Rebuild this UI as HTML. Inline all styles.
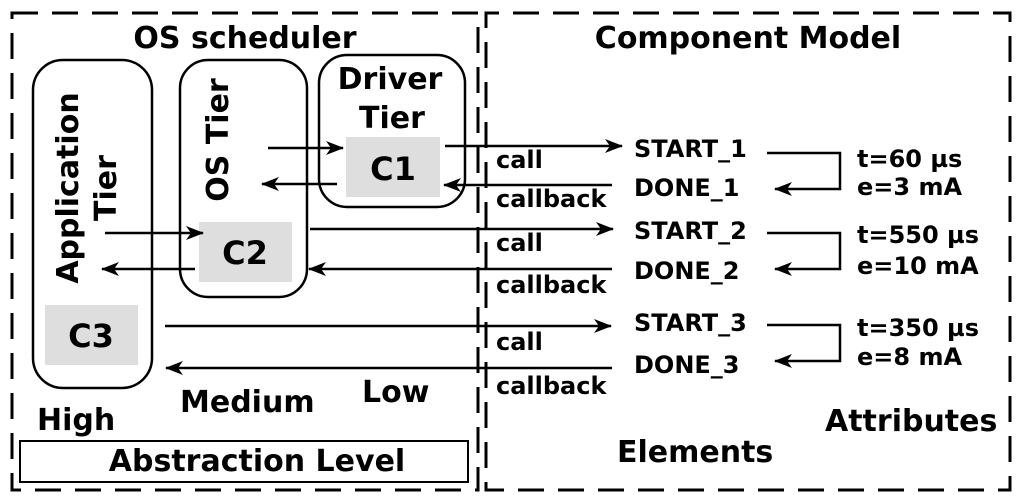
<!DOCTYPE html>
<html><head><meta charset="utf-8"><style>
html,body{margin:0;padding:0;background:#fff;}
svg{display:block;}
text{font-family:"DejaVu Sans","Liberation Sans",sans-serif;font-weight:bold;fill:#000;}
</style></head><body>
<svg width="1024" height="503" viewBox="0 0 1024 503" xmlns="http://www.w3.org/2000/svg">
<defs>
<marker id="a" markerWidth="18" markerHeight="14" refX="17" refY="7" orient="auto" markerUnits="userSpaceOnUse">
<path d="M0,0 L18,7 L0,14 L5,7 Z" fill="#000"/></marker>
</defs>
<g fill="none" stroke="#000" stroke-width="3" stroke-dasharray="26,14">
<rect x="12" y="13" width="466" height="477"/>
<rect x="486" y="13" width="524" height="477" stroke-dashoffset="13"/>
</g>
<text x="245" y="48" font-size="30" text-anchor="middle">OS scheduler</text>
<text x="748" y="48" font-size="30" text-anchor="middle">Component Model</text>
<g fill="none" stroke="#000" stroke-width="2.5">
<rect x="33" y="60" width="119" height="328" rx="30"/>
<rect x="180" y="60" width="127" height="237" rx="28"/>
<rect x="319" y="55" width="146" height="152" rx="28"/>
<rect x="20" y="441" width="448" height="41" stroke-width="2"/>
</g>
<rect x="346" y="137" width="94" height="60" fill="#dedede"/>
<rect x="199" y="222" width="93" height="60" fill="#dedede"/>
<rect x="45" y="305" width="93" height="60" fill="#dedede"/>
<text x="393" y="180" font-size="32" text-anchor="middle">C1</text>
<text x="245" y="264" font-size="32" text-anchor="middle">C2</text>
<text x="91" y="347" font-size="32" text-anchor="middle">C3</text>
<text x="390" y="89" font-size="30" text-anchor="middle">Driver</text>
<text x="392" y="128" font-size="30" text-anchor="middle">Tier</text>
<text transform="translate(78,188) rotate(-90)" font-size="30" text-anchor="middle">Application</text>
<text transform="translate(116,188) rotate(-90)" font-size="30" text-anchor="middle">Tier</text>
<text transform="translate(228,140) rotate(-90)" font-size="30" text-anchor="middle">OS Tier</text>
<g stroke="#000" stroke-width="2.5" fill="none" marker-end="url(#a)">
<line x1="268" y1="148" x2="343" y2="148"/>
<line x1="337" y1="184" x2="262" y2="184"/>
<line x1="445" y1="146" x2="622" y2="146"/>
<line x1="612" y1="185" x2="444" y2="185"/>
<line x1="105" y1="233" x2="203" y2="233"/>
<line x1="195" y1="269" x2="102" y2="269"/>
<line x1="310" y1="229" x2="613" y2="229"/>
<line x1="612" y1="269" x2="309" y2="269"/>
<line x1="165" y1="326" x2="611" y2="326"/>
<line x1="612" y1="368" x2="166" y2="368"/>
<polyline points="767,153 840,153 840,189 775,189"/>
<polyline points="767,233 840,233 840,269 775,269"/>
<polyline points="767,325 840,325 840,361 775,361"/>
</g>
<g font-size="24">
<text x="496" y="168">call</text>
<text x="496" y="207">callback</text>
<text x="496" y="251">call</text>
<text x="496" y="293">callback</text>
<text x="496" y="350">call</text>
<text x="496" y="394">callback</text>
<text x="634" y="157">START_1</text>
<text x="634" y="196">DONE_1</text>
<text x="634" y="239">START_2</text>
<text x="634" y="279">DONE_2</text>
<text x="634" y="331">START_3</text>
<text x="634" y="373">DONE_3</text>
<text x="857" y="167">t=60 µs</text>
<text x="857" y="195">e=3 mA</text>
<text x="857" y="243">t=550 µs</text>
<text x="857" y="274">e=10 mA</text>
<text x="857" y="336">t=350 µs</text>
<text x="857" y="365">e=8 mA</text>
</g>
<g font-size="30">
<text x="37" y="430">High</text>
<text x="180" y="412">Medium</text>
<text x="362" y="402">Low</text>
<text x="825" y="431">Attributes</text>
<text x="617" y="462">Elements</text>
<text x="257" y="471" text-anchor="middle">Abstraction Level</text>
</g>
</svg>
</body></html>
